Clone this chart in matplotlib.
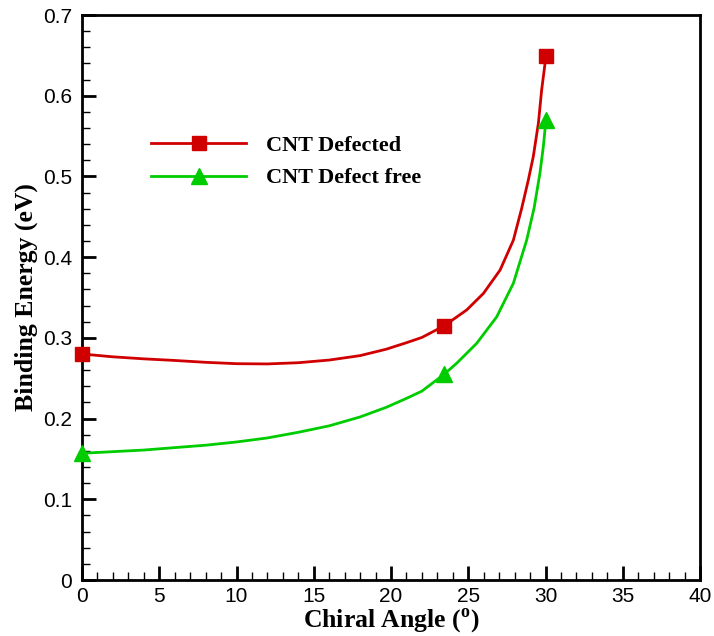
import matplotlib.pyplot as plt
from matplotlib.ticker import MultipleLocator

# Puntos medidos (marcadores)
angulo = [0, 23.45, 30.03]
energia_defecto = [0.28, 0.315, 0.649]
energia_sin_defecto = [0.157, 0.255, 0.570]

# Trazos suaves
curva_x_rojo = [0, 2, 4, 6, 8, 10, 12, 14, 16, 18, 19.7, 21, 22, 23.45,
                23.82, 24.9, 25.98, 27.06, 27.92, 28.46, 28.89, 29.21, 29.54, 29.75, 30.03]
curva_y_rojo = [0.28, 0.2765, 0.274, 0.272, 0.2697, 0.268, 0.2677, 0.2692, 0.2725, 0.278, 0.286, 0.294, 0.3005, 0.315,
                0.320, 0.3346, 0.355, 0.384, 0.421, 0.4606, 0.4957, 0.5246, 0.566, 0.607, 0.649]
curva_x_verde = [0, 2, 4, 6, 8, 10, 12, 14, 16, 18, 19.7, 21, 22, 23.45,
                 24.25, 25.55, 26.84, 27.92, 28.78, 29.26, 29.64, 29.86, 30.03]
curva_y_verde = [0.157, 0.159, 0.161, 0.164, 0.167, 0.171, 0.176, 0.183, 0.191, 0.202, 0.214, 0.225, 0.234, 0.255,
                 0.2685, 0.2933, 0.326, 0.3676, 0.421, 0.4606, 0.504, 0.537, 0.570]

rojo = '#D00000'
verde = '#00CC00'

fig = plt.figure(figsize=(7.14, 6.36), dpi=100)
ax = fig.add_axes([82 / 714, 56 / 636, 618 / 714, 565 / 636])

ax.plot(curva_x_rojo, curva_y_rojo, color=rojo, lw=2, zorder=2)
ax.plot(curva_x_verde, curva_y_verde, color=verde, lw=2, zorder=2)
ax.plot(angulo, energia_defecto, ls='none', marker='s', ms=10.5, color=rojo, zorder=3, clip_on=False)
ax.plot(angulo, energia_sin_defecto, ls='none', marker='^', ms=11, color=verde, zorder=3, clip_on=False)

# Entradas de leyenda
h1, = ax.plot([], [], color=rojo, lw=2, marker='s', ms=10.5)
h2, = ax.plot([], [], color=verde, lw=2, marker='^', ms=11)
ax.legend([h1, h2], ['CNT Defected', 'CNT Defect free'], loc='center left',
          bbox_to_anchor=(0.079, 0.7405), frameon=False, handlelength=4.3, handletextpad=0.9,
          labelspacing=0.55, prop={'family': 'Liberation Serif', 'weight': 'bold', 'size': 16})

ax.set_xlim(0, 40)
ax.set_ylim(0, 0.7)
ax.set_xticks(range(0, 41, 5))
ax.set_xticklabels([str(v) for v in range(0, 41, 5)])
ax.set_yticks([0, 0.1, 0.2, 0.3, 0.4, 0.5, 0.6, 0.7])
ax.set_yticklabels(['0', '0.1', '0.2', '0.3', '0.4', '0.5', '0.6', '0.7'])
ax.xaxis.set_minor_locator(MultipleLocator(1))
ax.yaxis.set_minor_locator(MultipleLocator(0.02))

ax.tick_params(which='both', direction='in', top=False, right=False)
ax.tick_params(which='major', length=10, width=2, labelsize=15)
ax.tick_params(which='minor', length=5.5, width=1)
ax.tick_params(axis='x', which='major', pad=5)
ax.tick_params(axis='y', which='major', pad=7)
for lab in ax.get_xticklabels() + ax.get_yticklabels():
    lab.set_fontfamily('Liberation Sans')
for s in ax.spines.values():
    s.set_linewidth(2)

ax.set_xlabel('Chiral Angle ($^{\\mathregular{o}}$)', family='Liberation Serif', weight='bold',
              size=18.5, labelpad=0)
ax.set_ylabel('Binding Energy (eV)', family='Liberation Serif', weight='bold', size=18.5, labelpad=4)

fig.savefig('out.png', dpi=100)
